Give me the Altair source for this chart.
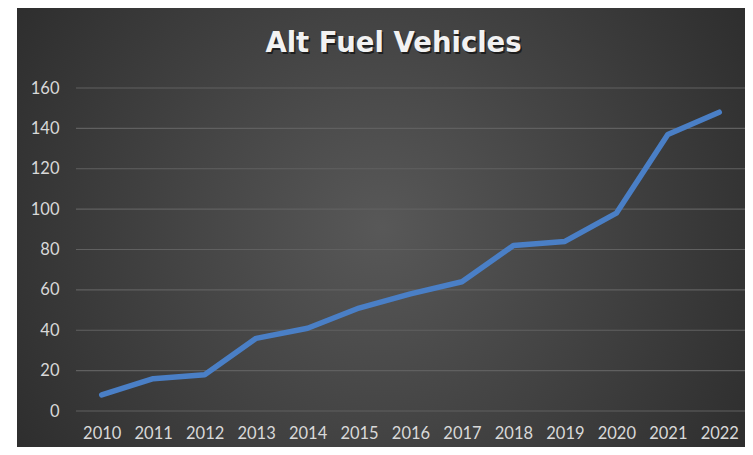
import altair as alt
import pandas as pd

years = ["2010", "2011", "2012", "2013", "2014", "2015", "2016",
         "2017", "2018", "2019", "2020", "2021", "2022"]
vehicles = [8, 16, 18, 36, 41, 51, 58, 64, 82, 84, 98, 137, 148]
y_ticks = [0, 20, 40, 60, 80, 100, 120, 140, 160]
title_text = "Alt Fuel Vehicles"

df = pd.DataFrame({"year": years, "value": vehicles})
grid_df = pd.DataFrame({"value": y_ticks})

W, H = 669, 323
FONT = "Lato"
TFONT = "DejaVu Sans"

y_enc = alt.Y("value:Q", scale=alt.Scale(domain=[0, 160], nice=False),
              axis=alt.Axis(title=None, values=y_ticks, grid=False, domain=False,
                            ticks=False, tickSize=0, labelPadding=17, labelFont=FONT,
                            labelFontSize=16.5, labelColor="#d9d9d9", zindex=1))

bg = alt.Chart(alt.Data(values=[{}])).mark_rect(
    color=alt.Gradient(
        gradient="radial",
        x1=0.5, y1=0.5, r1=0.0,
        x2=0.5, y2=0.5, r2=0.72,
        stops=[alt.GradientStop(offset=0, color="#585858"),
               alt.GradientStop(offset=1, color="#242424")],
    )
).encode(
    x=alt.value(-59), x2=alt.value(W),
    y=alt.value(-80), y2=alt.value(359),
)

title_shadow = alt.Chart(alt.Data(values=[{}])).mark_text(
    text=title_text, font=TFONT, fontSize=27.5, fontWeight="bold", color="#000000",
    opacity=0.55, align="center", baseline="alphabetic", dx=1.5, dy=1.5,
).encode(x=alt.value(W / 2 - 17), y=alt.value(-36))

title = alt.Chart(alt.Data(values=[{}])).mark_text(
    text=title_text, font=TFONT, fontSize=27.5, fontWeight="bold", color="#f2f2f2",
    align="center", baseline="alphabetic",
).encode(x=alt.value(W / 2 - 17), y=alt.value(-36))

grid = alt.Chart(grid_df).mark_rule(color="#606060", strokeWidth=1.2).encode(
    y=y_enc, x=alt.value(0), x2=alt.value(W),
)

line = alt.Chart(df).mark_line(
    color="#4a7fc6", strokeWidth=5.5, strokeCap="round", strokeJoin="round"
).encode(
    x=alt.X("year:O", sort=years, scale=alt.Scale(padding=0.5),
            axis=alt.Axis(title=None, labelAngle=0, grid=False, domain=False,
                          ticks=False, tickSize=0, labelPadding=14, zindex=1,
                          labelFont=FONT, labelFontSize=16.5, labelColor="#d9d9d9")),
    y=y_enc,
)

chart = alt.layer(bg, grid, line, title_shadow, title).properties(
    width=W, height=H,
    autosize=alt.AutoSizeParams(type="none"),
    padding={"left": 68, "top": 80, "right": 0, "bottom": 36},
).configure_view(stroke=None).configure(background="white")

chart.save("out.html", embed_options={"renderer": "svg", "actions": False})
